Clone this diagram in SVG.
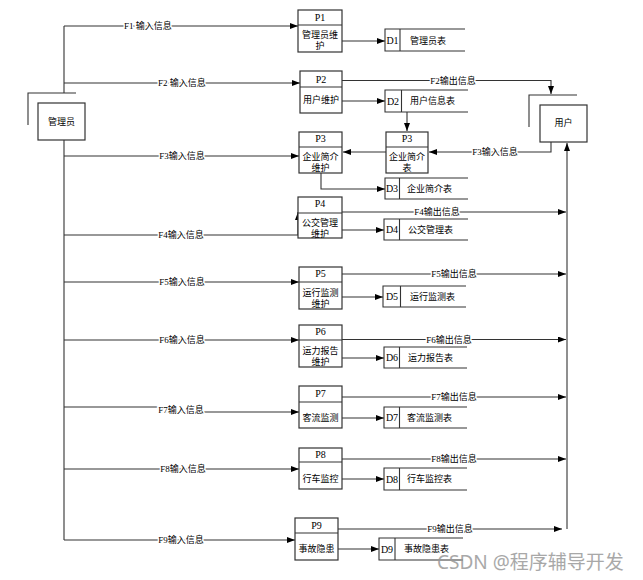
<svg xmlns="http://www.w3.org/2000/svg" width="643" height="580" viewBox="0 0 643 580">
<defs>
<marker id="ah" markerUnits="userSpaceOnUse" markerWidth="9" markerHeight="7" refX="8" refY="3" orient="auto"><path d="M0,0 L8,3 L0,6 z" fill="#000"/></marker>
<style>
.ln{fill:none;stroke:#333;stroke-width:1.1}
.ar{fill:none;stroke:#333;stroke-width:1.1;marker-end:url(#ah)}
.bx{fill:#fff;stroke:#333;stroke-width:1.2}
.t{font-family:"Liberation Serif","Noto Sans CJK SC",serif;font-size:9px;fill:#000;text-anchor:middle}
.ts{font-family:"Liberation Serif","Noto Sans CJK SC",serif;font-size:9px;fill:#000}
.lb{font-family:"Liberation Serif","Noto Sans CJK SC",serif;font-size:9px;fill:#000;text-anchor:middle;stroke:#fff;stroke-width:3;paint-order:stroke}
.pn{font-family:"Liberation Serif","Noto Sans CJK SC",serif;font-size:10px;fill:#000;text-anchor:middle}
</style>
</defs>
<rect width="643" height="580" fill="#fff"/>
<g id="connectors">
<path class="ln" d="M64,26 V93 M64,140 V540"/>
<path class="ar" d="M64,26 H298"/>
<path class="ar" d="M64,83 H300"/>
<path class="ar" d="M64,156 H299"/>
<path class="ar" d="M64,235 H298 V212"/>
<path class="ar" d="M64,282 H299"/>
<path class="ar" d="M64,340 H299"/>
<path class="ln" d="M64,407 H162"/>
<path class="ar" d="M162,412 H299"/>
<path class="ar" d="M64,469 H299"/>
<path class="ar" d="M64,540 H295"/>
<path class="ar" d="M342,41 H385"/>
<path class="ar" d="M342,101 H385"/>
<path class="ar" d="M321,173 V189 H385"/>
<path class="ar" d="M342,230 H384"/>
<path class="ar" d="M342,297 H383"/>
<path class="ar" d="M342,358 H384"/>
<path class="ar" d="M342,418 H384"/>
<path class="ar" d="M342,479 H384"/>
<path class="ar" d="M338,549 H379"/>
<path class="ar" d="M407,112 V131"/>
<path class="ar" d="M342,80.5 H551 V94"/>
<path class="ar" d="M551,142 V152 H429"/>
<path class="ar" d="M386,152 H343"/>
<path class="ar" d="M567,529 V143"/>
<path class="ar" d="M306,212 H566"/>
<path class="ar" d="M342,274 H566"/>
<path class="ar" d="M342,339.5 H566"/>
<path class="ar" d="M342,397 H566"/>
<path class="ar" d="M342,459 H566"/>
<path class="ar" d="M338,529 H562"/>
<text class="lb" x="148" y="29">F1 输入信息</text>
<text class="lb" x="182" y="86">F2 输入信息</text>
<text class="lb" x="182" y="159">F3输入信息</text>
<text class="lb" x="181" y="238">F4输入信息</text>
<text class="lb" x="182" y="285">F5输入信息</text>
<text class="lb" x="182" y="343">F6输入信息</text>
<text class="lb" x="181" y="413">F7输入信息</text>
<text class="lb" x="183" y="472">F8输入信息</text>
<text class="lb" x="181" y="543">F9输入信息</text>
<text class="lb" x="453" y="83.5">F2输出信息</text>
<text class="lb" x="495" y="155">F3输入信息</text>
<text class="lb" x="437" y="215">F4输出信息</text>
<text class="lb" x="454" y="277">F5输出信息</text>
<text class="lb" x="449" y="342.5">F6输出信息</text>
<text class="lb" x="454" y="400">F7输出信息</text>
<text class="lb" x="454" y="462">F8输出信息</text>
<text class="lb" x="450" y="532">F9输出信息</text>
</g>
<g id="admin">
<path class="ln" d="M28,125 V93 H76"/>
<rect class="bx" x="38" y="103" width="47" height="37"/>
<text class="t" x="61.5" y="125">管理员</text>
</g>
<g id="user">
<path class="ln" d="M529,127 V95 H577"/>
<rect class="bx" x="540" y="105" width="47" height="37"/>
<text class="t" x="563.5" y="126">用户</text>
</g>
<g id="P1">
<rect class="bx" x="298" y="10" width="44" height="42"/><path class="ln" d="M298,25 H342"/>
<text class="pn" x="320" y="21">P1</text><text class="t" x="320" y="38">管理员维</text><text class="t" x="320" y="49">护</text>
</g>
<g id="P2">
<rect class="bx" x="300" y="71" width="42" height="42"/><path class="ln" d="M300,87 H342"/>
<text class="pn" x="321" y="83">P2</text><text class="t" x="321" y="103">用户维护</text>
</g>
<g id="P3a">
<rect class="bx" x="299" y="132" width="43" height="41"/><path class="ln" d="M299,147 H342"/>
<text class="pn" x="320.5" y="142">P3</text><text class="t" x="320.5" y="160">企业简介</text><text class="t" x="320.5" y="171">维护</text>
</g>
<g id="P3b">
<rect class="bx" x="386" y="132" width="42" height="41"/><path class="ln" d="M386,147 H428"/>
<text class="pn" x="407" y="142">P3</text><text class="t" x="407" y="160">企业简介</text><text class="t" x="407" y="171">表</text>
</g>
<g id="P4">
<rect class="bx" x="298" y="197" width="44" height="41"/><path class="ln" d="M298,213 H342"/>
<text class="pn" x="320" y="207">P4</text><text class="t" x="320" y="226">公交管理</text><text class="t" x="320" y="237">维护</text>
</g>
<g id="P5">
<rect class="bx" x="299" y="267" width="43" height="42"/><path class="ln" d="M299,282 H342"/>
<text class="pn" x="320.5" y="277">P5</text><text class="t" x="320.5" y="296">运行监测</text><text class="t" x="320.5" y="307">维护</text>
</g>
<g id="P6">
<rect class="bx" x="299" y="325" width="43" height="42"/><path class="ln" d="M299,340 H342"/>
<text class="pn" x="320.5" y="335">P6</text><text class="t" x="320.5" y="353.5">运力报告</text><text class="t" x="320.5" y="364.5">维护</text>
</g>
<g id="P7">
<rect class="bx" x="299" y="386" width="43" height="42"/><path class="ln" d="M299,402 H342"/>
<text class="pn" x="320.5" y="397">P7</text><text class="t" x="320.5" y="421">客流监测</text>
</g>
<g id="P8">
<rect class="bx" x="299" y="448" width="43" height="41"/><path class="ln" d="M299,462 H342"/>
<text class="pn" x="320.5" y="458">P8</text><text class="t" x="320.5" y="482">行车监控</text>
</g>
<g id="P9">
<rect class="bx" x="295" y="518" width="43" height="42"/><path class="ln" d="M295,533 H338"/>
<text class="pn" x="316.5" y="529">P9</text><text class="t" x="316.5" y="552">事故隐患</text>
</g>
<g id="D1"><path class="ln" d="M465,29 H385 V51 H465 M400,29 V51"/><text class="pn" x="392.5" y="44">D1</text><text class="ts" x="410" y="43.5">管理员表</text></g>
<g id="D2"><path class="ln" d="M468,90 H385 V112 H468 M401.5,90 V112"/><text class="pn" x="393" y="105">D2</text><text class="ts" x="410" y="104">用户信息表</text></g>
<g id="D3"><path class="ln" d="M468,178 H385 V199 H468 M399.5,178 V199"/><text class="pn" x="392" y="192">D3</text><text class="ts" x="407" y="192">企业简介表</text></g>
<g id="D4"><path class="ln" d="M468,219 H384 V240 H468 M399.5,219 V240"/><text class="pn" x="392" y="233">D4</text><text class="ts" x="408" y="232.5">公交管理表</text></g>
<g id="D5"><path class="ln" d="M466,286 H383 V307 H466 M400.5,286 V307"/><text class="pn" x="392" y="300">D5</text><text class="ts" x="410" y="299.5">运行监测表</text></g>
<g id="D6"><path class="ln" d="M467,347 H384 V368 H467 M399.5,347 V368"/><text class="pn" x="392" y="361">D6</text><text class="ts" x="408" y="360.5">运力报告表</text></g>
<g id="D7"><path class="ln" d="M467,407 H384 V428 H467 M399.5,407 V428"/><text class="pn" x="392" y="421">D7</text><text class="ts" x="407" y="420.5">客流监测表</text></g>
<g id="D8"><path class="ln" d="M467,468 H384 V490 H467 M399.5,468 V490"/><text class="pn" x="392" y="482.5">D8</text><text class="ts" x="407" y="482">行车监控表</text></g>
<g id="D9"><path class="ln" d="M463,538 H379 V560 H463 M395,538 V560"/><text class="pn" x="387" y="552.5">D9</text><text class="ts" x="404" y="552">事故隐患表</text></g>
<text x="437" y="569" style="font-family:'Noto Sans','Noto Sans CJK SC',sans-serif;font-size:19px;fill:#9a9a9a;opacity:0.85">CSDN @程序辅导开发</text>
</svg>
